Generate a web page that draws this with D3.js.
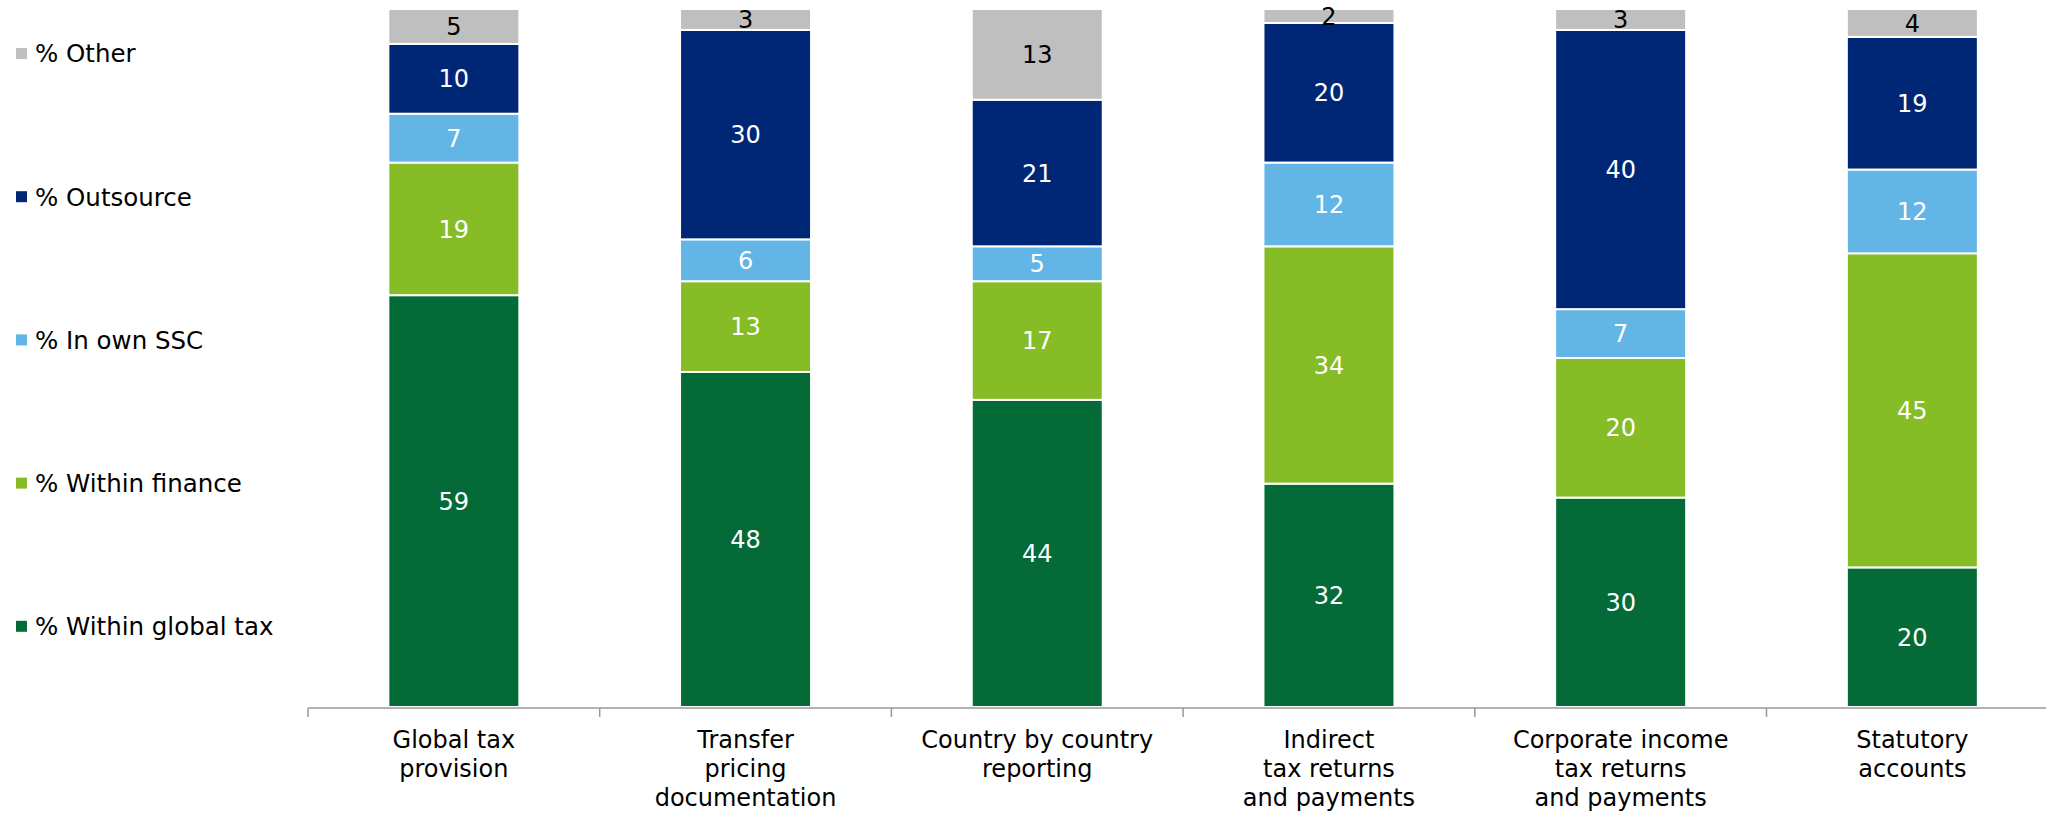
<!DOCTYPE html>
<html>
<head>
<meta charset="utf-8">
<script src="https://cdn.jsdelivr.net/npm/d3@7"></script>
<style>
  body { margin: 0; background: #fff; }
  text { font-family: "DejaVu Sans", Verdana, sans-serif; }
</style>
</head>
<body>
<div id="chart"></div>
<script>
var categories = [
  ["Global tax", "provision"],
  ["Transfer", "pricing", "documentation"],
  ["Country by country", "reporting"],
  ["Indirect", "tax returns", "and payments"],
  ["Corporate income", "tax returns", "and payments"],
  ["Statutory", "accounts"]
];
// stacked bottom to top
var seriesNames = ["% Within global tax", "% Within finance", "% In own SSC", "% Outsource", "% Other"];
var seriesColors = ["#046a38", "#86bc25", "#62b5e5", "#002776", "#bfbfbf"];
var withinGlobalTax = [59, 48, 44, 32, 30, 20];
var withinFinance   = [19, 13, 17, 34, 20, 45];
var inOwnSSC        = [7, 6, 5, 12, 7, 12];
var outsource       = [10, 30, 21, 20, 40, 19];
var other           = [5, 3, 13, 2, 3, 4];

var width = 2046, height = 814;
var seriesValues = [withinGlobalTax, withinFinance, inOwnSSC, outsource, other];

var rows = categories.map(function(c, i) {
  var r = { key: i };
  seriesNames.forEach(function(s, j) { r[s] = seriesValues[j][i]; });
  return r;
});

var svg = d3.select('#chart').append('svg')
  .attr('width', width)
  .attr('height', height);

var x = d3.scaleBand()
  .domain(d3.range(categories.length))
  .range([308, 308 + 6 * 291.7]);

var y = d3.scaleLinear()
  .domain([0, 100])
  .range([707, 9]);

var barW = 131;
var stack = d3.stack().keys(seriesNames)(rows);

var layers = svg.append('g').selectAll('g')
  .data(stack)
  .join('g')
  .attr('fill', function(d, i) { return seriesColors[i]; });

layers.selectAll('rect')
  .data(function(d) { return d; })
  .join('rect')
  .attr('x', function(d) { return x(d.data.key) + (x.bandwidth() - barW) / 2; })
  .attr('y', function(d) { return y(d[1]); })
  .attr('width', barW)
  .attr('height', function(d) { return y(d[0]) - y(d[1]); })
  .attr('stroke', '#fff')
  .attr('stroke-width', 2);

layers.selectAll('text')
  .data(function(d, i) { return d.map(function(p) { p.series = i; return p; }); })
  .join('text')
  .attr('x', function(d) { return x(d.data.key) + x.bandwidth() / 2; })
  .attr('y', function(d) { return (y(d[0]) + y(d[1])) / 2; })
  .attr('dy', '0.36em')
  .attr('text-anchor', 'middle')
  .attr('font-size', 24)
  .attr('fill', function(d) { return d.series === 4 ? '#000' : '#fff'; })
  .text(function(d) { return d[1] - d[0]; });

// axis
var axis = svg.append('g');
axis.append('line')
  .attr('x1', x.range()[0]).attr('x2', x.range()[1])
  .attr('y1', 708).attr('y2', 708)
  .attr('stroke', '#999').attr('stroke-width', 1.5);
axis.selectAll('line.tick')
  .data(x.domain())
  .join('line')
  .attr('class', 'tick')
  .attr('x1', function(d) { return x(d); }).attr('x2', function(d) { return x(d); })
  .attr('y1', 708).attr('y2', 717)
  .attr('stroke', '#999').attr('stroke-width', 1.5);

axis.selectAll('text.lbl')
  .data(categories)
  .join('text')
  .attr('class', 'lbl')
  .attr('text-anchor', 'middle')
  .attr('font-size', 24)
  .attr('fill', '#000')
  .each(function(lines, i) {
    var t = d3.select(this);
    lines.forEach(function(l, k) {
      t.append('tspan')
        .attr('x', x(i) + x.bandwidth() / 2)
        .attr('y', 748 + k * 29)
        .text(l);
    });
  });

// legend, top to bottom
var legendItems = seriesNames.map(function(s, i) { return { name: s, color: seriesColors[i] }; }).reverse();
var legend = svg.append('g').selectAll('g')
  .data(legendItems)
  .join('g')
  .attr('transform', function(d, i) { return 'translate(16,' + (53.5 + i * 143.2) + ')'; });
legend.append('rect')
  .attr('x', 0).attr('y', -5.5)
  .attr('width', 11).attr('height', 11)
  .attr('fill', function(d) { return d.color; });
legend.append('text')
  .attr('x', 19).attr('y', 0)
  .attr('dy', '0.36em')
  .attr('font-size', 24.5)
  .attr('fill', '#000')
  .text(function(d) { return d.name; });
</script>
</body>
</html>
